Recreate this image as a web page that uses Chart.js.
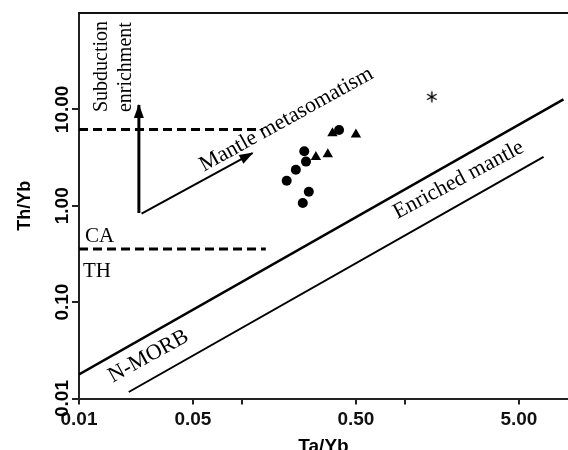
<!DOCTYPE html>
<html><head><meta charset="utf-8">
<script src="https://cdn.jsdelivr.net/npm/chart.js@4/dist/chart.umd.min.js"></script>
<style>html,body{margin:0;padding:0;background:#fff;overflow:hidden}canvas{display:block}</style>
</head><body>
<canvas id="c" width="568" height="450"></canvas>
<script>
// ---- data (Ta/Yb, Th/Yb) ----
const circleTaYb = [0.241, 0.247, 0.214, 0.188, 0.257, 0.236, 0.394];
const circleThYb = [3.68, 2.87, 2.36, 1.82, 1.40, 1.07, 6.10];
const triangleTaYb = [0.284, 0.336, 0.500, 0.359];
const triangleThYb = [3.20, 3.42, 5.50, 5.64];
const asteriskTaYb = [1.46];
const asteriskThYb = [13.5];
const upperLineTaYb = [0.01, 9.38];
const upperLineThYb = [0.0178, 12.7];
const lowerLineTaYb = [0.0202, 7.08];
const lowerLineThYb = [0.01168, 3.22];
const subductionDashTaYb = [0.01, 0.135];
const subductionDashThYb = [6.2, 6.2];
const caThDashTaYb = [0.01, 0.14];
const caThDashThYb = [0.355, 0.355];
const subductionArrowTaYb = [0.0233, 0.0233];
const subductionArrowThYb = [0.84, 11.1];
const mantleArrowTaYb = [0.0242, 0.116];
const mantleArrowThYb = [0.83, 3.52];
const xTickValues = [0.01, 0.05, 0.1, 0.5, 1, 5];
const xTickLabels = ['0.01', '0.05', '', '0.50', '', '5.00'];
const yTickValues = [0.01, 0.1, 1, 10];
const yTickLabels = ['0.01', '0.10', '1.00', '10.00'];
const xTitle = 'Ta/Yb';
const yTitle = 'Th/Yb';

const pts = (xs, ys) => xs.map((x, i) => ({x: x, y: ys[i]}));
const SERIF = '"Liberation Serif", "Times New Roman", serif';
const SANS = '"Liberation Sans", Arial, sans-serif';

function asteriskImg() {
  const c = document.createElement('canvas'); c.width = 14; c.height = 14;
  const g = c.getContext('2d'); g.strokeStyle = '#000'; g.lineWidth = 1.4; g.lineCap = 'butt';
  for (let k = 0; k < 3; k++) {
    const a = Math.PI / 2 + k * Math.PI / 3;
    g.beginPath(); g.moveTo(7 + 5.5 * Math.cos(a), 7 - 5.5 * Math.sin(a));
    g.lineTo(7 - 5.5 * Math.cos(a), 7 + 5.5 * Math.sin(a)); g.stroke();
  }
  return c;
}

const decor = {
  id: 'decor',
  afterDatasetsDraw(chart) {
    const ctx = chart.ctx, a = chart.chartArea, x = chart.scales.x, y = chart.scales.y;
    ctx.save();
    ctx.strokeStyle = '#111'; ctx.lineWidth = 2;
    ctx.beginPath(); ctx.moveTo(a.left - 1, a.top); ctx.lineTo(a.right, a.top); ctx.stroke();
    chart.data.datasets.forEach((ds, i) => {
      if (!ds.arrow) return;
      const d = chart.getDatasetMeta(i).data;
      const p1 = d[d.length - 2], p2 = d[d.length - 1];
      const ang = Math.atan2(p2.y - p1.y, p2.x - p1.x);
      ctx.save(); ctx.translate(p2.x, p2.y); ctx.rotate(ang);
      ctx.fillStyle = '#000'; ctx.beginPath();
      ctx.moveTo(1, 0); ctx.lineTo(-ds.arrow.len, -ds.arrow.half); ctx.lineTo(-ds.arrow.len, ds.arrow.half);
      ctx.closePath(); ctx.fill(); ctx.restore();
    });
    function txt(s, px, py, rot, font, align, base) {
      ctx.save(); ctx.translate(px, py); ctx.rotate(rot * Math.PI / 180);
      ctx.font = font; ctx.textAlign = align; ctx.textBaseline = base; ctx.fillStyle = '#000';
      ctx.fillText(s, 0, 0); ctx.restore();
    }
    const X = v => x.getPixelForValue(v), Y = v => y.getPixelForValue(v);
    // y tick labels (rotated)
    yTickValues.forEach((v, i) => txt(yTickLabels[i], a.left - 11, Y(v), -90, 'bold 19px ' + SANS, 'center', 'alphabetic'));
    // axis titles
    txt(yTitle, 30, (a.top + a.bottom) / 2, -90, 'bold 18px ' + SANS, 'center', 'alphabetic');
    txt(xTitle, (a.left + a.right) / 2, a.bottom + 53, 0, 'bold 19px ' + SANS, 'center', 'alphabetic');
    // annotations
    const f = 'normal 22px ' + SERIF;
    txt('Subduction', X(0.01483), Y(9.37), -90, 'normal 20px ' + SERIF, 'left', 'alphabetic');
    txt('enrichment', X(0.0208), Y(9.37), -90, 'normal 20px ' + SERIF, 'left', 'alphabetic');
    txt('Mantle metasomatism', X(0.195), Y(6.95), -29, f, 'center', 'alphabetic');
    txt('Enriched mantle', X(2.215), Y(1.64), -28, f, 'center', 'alphabetic');
    txt('N-MORB', X(0.02776), Y(0.0242), -29, f, 'center', 'alphabetic');
    txt('CA', X(0.0109), Y(0.42), 0, 'normal 21px ' + SERIF, 'left', 'alphabetic');
    txt('TH', X(0.01058), Y(0.182), 0, 'normal 21px ' + SERIF, 'left', 'alphabetic');
    ctx.restore();
  }
};

const lineDs = (xs, ys, w, extra) => Object.assign({
  data: pts(xs, ys), showLine: true, borderColor: '#000', borderWidth: w,
  pointRadius: 0, fill: false
}, extra || {});

new Chart(document.getElementById('c'), {
  type: 'scatter',
  data: {
    datasets: [
      lineDs(upperLineTaYb, upperLineThYb, 2.5),
      lineDs(lowerLineTaYb, lowerLineThYb, 2),
      lineDs(subductionDashTaYb, subductionDashThYb, 3, {borderDash: [9, 5]}),
      lineDs(caThDashTaYb, caThDashThYb, 3, {borderDash: [9, 5]}),
      lineDs(subductionArrowTaYb, subductionArrowThYb, 3, {arrow: {len: 13, half: 5}}),
      lineDs(mantleArrowTaYb, mantleArrowThYb, 2, {arrow: {len: 13, half: 5}}),
      {data: pts(circleTaYb, circleThYb), pointStyle: 'circle', pointRadius: 5,
       backgroundColor: '#000', borderColor: '#000', borderWidth: 0},
      {data: pts(triangleTaYb, triangleThYb), pointStyle: 'triangle', pointRadius: 6,
       backgroundColor: '#000', borderColor: '#000', borderWidth: 0},
      {data: pts(asteriskTaYb, asteriskThYb), pointStyle: asteriskImg(), pointRadius: 7}
    ]
  },
  options: {
    responsive: false, animation: false, devicePixelRatio: 1,
    layout: {autoPadding: false, padding: {top: 13, left: 0, right: 0, bottom: 0}},
    plugins: {legend: {display: false}, tooltip: {enabled: false}},
    scales: {
      x: {
        type: 'logarithmic', min: 0.01, max: 10,
        afterBuildTicks: s => { s.ticks = xTickValues.map(v => ({value: v})); },
        afterFit: s => { s.height = 51.5; s.paddingLeft = 0; s.paddingRight = 0; },
        ticks: {autoSkip: false, maxRotation: 0, minRotation: 0, padding: 4, color: '#111',
                font: {family: SANS, size: 19, weight: 'bold'},
                callback: (v, i) => xTickLabels[i]},
        grid: {drawOnChartArea: false, drawTicks: true, tickLength: 6, color: '#222', lineWidth: 2},
        border: {display: true, color: '#222', width: 2}
      },
      y: {
        type: 'logarithmic', min: 0.01, max: 100,
        afterBuildTicks: s => { s.ticks = yTickValues.map(v => ({value: v})); },
        afterFit: s => { s.width = 79; s.paddingTop = 0; s.paddingBottom = 0; },
        ticks: {padding: 0, callback: () => ''},
        grid: {drawOnChartArea: false, drawTicks: true, tickLength: 7, color: '#222', lineWidth: 2},
        border: {display: true, color: '#222', width: 2}
      }
    }
  },
  plugins: [decor]
});
</script>
</body></html>
